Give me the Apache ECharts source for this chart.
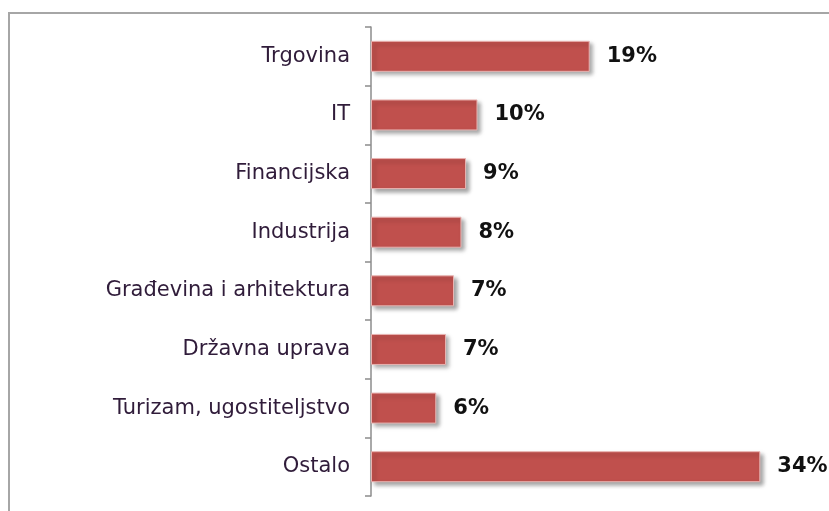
<!DOCTYPE html>
<html>
<head>
<meta charset="utf-8">
<script src="https://cdn.jsdelivr.net/npm/echarts@6/dist/echarts.min.js"></script>
<style>
  html, body { margin: 0; padding: 0; background: #fff; }
  #chart { width: 829px; height: 511px; }
</style>
</head>
<body>
<div id="chart"></div>
<script>
// sectors, top to bottom
const categories = ['Trgovina', 'IT', 'Financijska', 'Industrija', 'Građevina i arhitektura', 'Državna uprava', 'Turizam, ugostiteljstvo', 'Ostalo']
// bar lengths (%)
const shares = [19.1, 9.3, 8.3, 7.9, 7.25, 6.55, 5.7, 34]
// printed labels
const shareLabels = ['19%', '10%', '9%', '8%', '7%', '7%', '6%', '34%']

const chart = echarts.init(document.getElementById('chart'))
chart.setOption({
  animation: false,
  textStyle: { fontFamily: 'DejaVu Sans' },
  // outer frame
  graphic: [{
    type: 'rect',
    shape: { x: 9, y: 13, width: 840, height: 520 },
    style: { fill: 'none', stroke: '#a6a6a6', lineWidth: 2 }
  }],
  grid: { left: 371, right: 0, top: 27, bottom: 15 },
  xAxis: {
    type: 'value',
    min: 0,
    max: 40,
    show: false
  },
  yAxis: {
    type: 'category',
    inverse: true,
    data: categories,
    axisLine: { show: true, lineStyle: { color: '#8c8c8c', width: 1.5 } },
    axisTick: { show: true, length: 6, lineStyle: { color: '#8c8c8c', width: 1.5 } },
    axisLabel: { color: '#301c3a', fontSize: 21, margin: 21 }
  },
  series: [{
    type: 'bar',
    data: shares,
    barWidth: 31,
    itemStyle: {
      color: '#c0504d',
      borderColor: '#e9b3b1',
      borderWidth: 1,
      shadowColor: 'rgba(0,0,0,0.35)',
      shadowBlur: 4,
      shadowOffsetX: 3,
      shadowOffsetY: 3
    },
    label: {
      show: true,
      position: 'right',
      distance: 17,
      formatter: p => shareLabels[p.dataIndex],
      color: '#111',
      fontWeight: 'bold',
      fontSize: 21
    }
  }]
})
</script>
</body>
</html>
